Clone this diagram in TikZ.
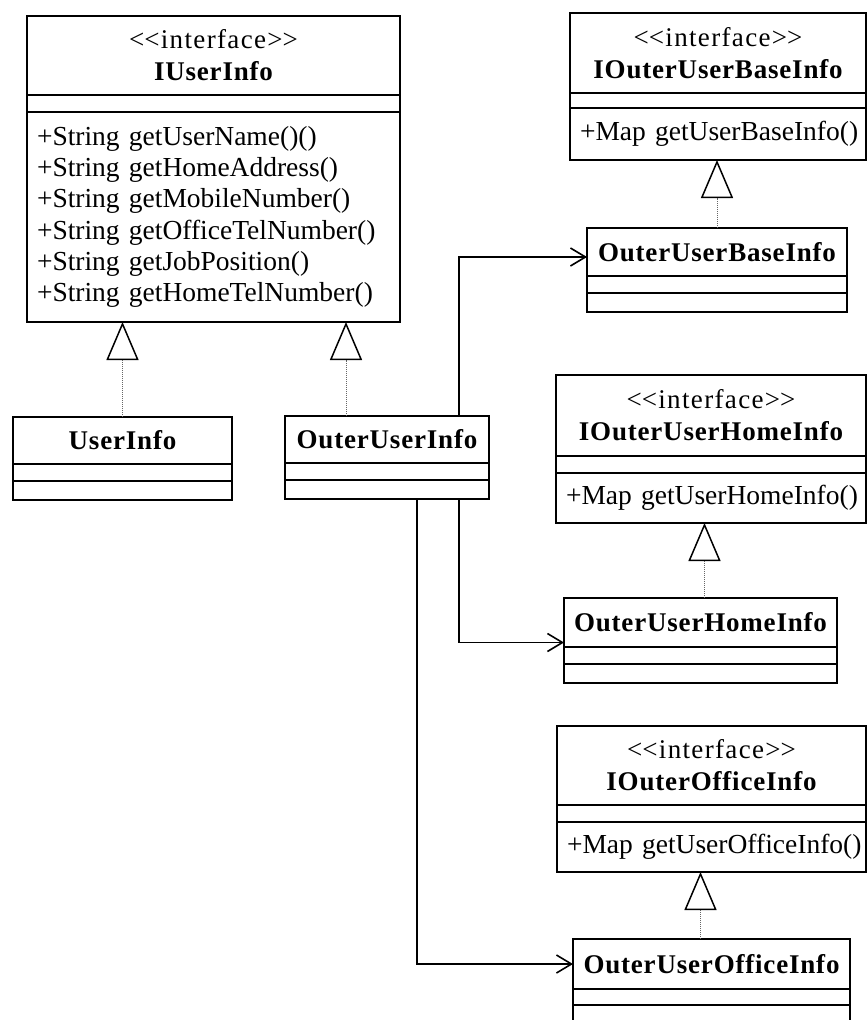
\documentclass[tikz,border=0pt]{standalone}
\usepackage{fontspec}
\setmainfont{Liberation Serif}
\newfontfamily\stereofont[LetterSpace=5]{Liberation Serif}
\newfontfamily\namefont[LetterSpace=3]{Liberation Serif}
\usetikzlibrary{arrows.meta,positioning}

\newcommand{\stereo}{{\stereofont <\kern0pt<interface>\kern0pt>}}

\tikzset{
  umlpart/.style={draw, line width=1.7pt, outer sep=0pt, inner sep=0pt},
  umltitle/.style={umlpart, align=center, font=\fontsize{27}{32}\selectfont},
  umlslot/.style={umlpart, minimum height=17},
  umlops/.style={umlpart, align=left, inner xsep=10pt, font=\fontsize{27.5}{31.2}\selectfont},
  umlreal/.style={densely dotted, line width=1pt, black!60,
    -{Triangle[open, fill=white, color=black, length=38pt, width=32pt, line width=1.5pt]}},
  umlassoc/.style={line width=1.6pt, -{Straight Barb[length=15pt, width=18pt, line width=1.6pt]}},
}

\begin{document}
\begin{tikzpicture}[x=1pt, y=-1pt]
  \useasboundingbox (0,0) rectangle (867,1020);

  % interface IUserInfo
  \node[umltitle, minimum width=373, minimum height=79, anchor=north west] (iuser) at (27,16)
    {\stereo\\ {\namefont\bfseries IUserInfo}};
  \node[umlslot, minimum width=373, below=0pt of iuser] (iuser-a) {};
  \node[umlops, text width=353, minimum width=373, minimum height=210, below=0pt of iuser-a] (iuser-o)
    {+String getUserName()()\\ +String getHomeAddress()\\ +String getMobileNumber()\\
     +String getOfficeTelNumber()\\ +String getJobPosition()\\ +String getHomeTelNumber()};

  % UserInfo
  \node[umltitle, minimum width=219, minimum height=47, anchor=north west] (uinfo) at (13,417)
    {\namefont\bfseries UserInfo};
  \node[umlslot, minimum width=219, below=0pt of uinfo] (uinfo-a) {};
  \node[umlpart, minimum width=219, minimum height=19, below=0pt of uinfo-a] (uinfo-o) {};

  % OuterUserInfo
  \node[umltitle, minimum width=204, minimum height=47, anchor=north west] (ouser) at (285,416)
    {\namefont\bfseries OuterUserInfo};
  \node[umlslot, minimum width=204, below=0pt of ouser] (ouser-a) {};
  \node[umlpart, minimum width=204, minimum height=19, below=0pt of ouser-a] (ouser-o) {};

  % interface IOuterUserBaseInfo
  \node[umltitle, minimum width=296, minimum height=80, anchor=north west] (ibase) at (570,13)
    {\stereo\\ {\namefont\bfseries IOuterUserBaseInfo}};
  \node[umlslot, minimum width=296, minimum height=15, below=0pt of ibase] (ibase-a) {};
  \node[umlops, text width=276, minimum width=296, minimum height=52, below=0pt of ibase-a] (ibase-o)
    {\mbox{+Map getUserBaseInfo()}};

  % OuterUserBaseInfo
  \node[umltitle, minimum width=260, minimum height=48, anchor=north west] (obase) at (587,228)
    {\namefont\bfseries OuterUserBaseInfo};
  \node[umlslot, minimum width=260, below=0pt of obase] (obase-a) {};
  \node[umlpart, minimum width=260, minimum height=19, below=0pt of obase-a] (obase-o) {};

  % interface IOuterUserHomeInfo
  \node[umltitle, minimum width=310, minimum height=81, anchor=north west] (ihome) at (556,375)
    {\stereo\\ {\namefont\bfseries IOuterUserHomeInfo}};
  \node[umlslot, minimum width=310, below=0pt of ihome] (ihome-a) {};
  \node[umlops, text width=290, minimum width=310, minimum height=50, below=0pt of ihome-a] (ihome-o)
    {\mbox{+Map getUserHomeInfo()}};

  % OuterUserHomeInfo
  \node[umltitle, minimum width=273, minimum height=49, anchor=north west] (ohome) at (564,598)
    {\namefont\bfseries OuterUserHomeInfo};
  \node[umlslot, minimum width=273, below=0pt of ohome] (ohome-a) {};
  \node[umlpart, minimum width=273, minimum height=19, below=0pt of ohome-a] (ohome-o) {};

  % interface IOuterOfficeInfo
  \node[umltitle, minimum width=309, minimum height=79, anchor=north west] (ioffice) at (557,726)
    {\stereo\\ {\namefont\bfseries IOuterOfficeInfo}};
  \node[umlslot, minimum width=309, below=0pt of ioffice] (ioffice-a) {};
  \node[umlops, text width=289, minimum width=309, minimum height=50, below=0pt of ioffice-a] (ioffice-o)
    {\mbox{+Map getUserOfficeInfo()}};

  % OuterUserOfficeInfo
  \node[umltitle, minimum width=277, minimum height=50, anchor=north west] (ooffice) at (573,939)
    {\namefont\bfseries OuterUserOfficeInfo};
  \node[umlslot, minimum width=277, minimum height=16, below=0pt of ooffice] (ooffice-a) {};
  \node[umlpart, minimum width=277, minimum height=19, below=0pt of ooffice-a] (ooffice-o) {};

  % realizations
  \draw[umlreal] (uinfo.north) -- (uinfo.north |- iuser-o.south);
  \draw[umlreal] ([xshift=-41pt]ouser.north) -- ([xshift=-41pt]ouser.north |- iuser-o.south);
  \draw[umlreal] (obase.north) -- (obase.north |- ibase-o.south);
  \draw[umlreal] ([xshift=4pt]ohome.north) -- ([xshift=4pt]ohome.north |- ihome-o.south);
  \draw[umlreal] ([xshift=-11pt]ooffice.north) -- ([xshift=-11pt]ooffice.north |- ioffice-o.south);

  % associations
  \draw[umlassoc] ([xshift=72pt]ouser.north) |- ([yshift=-5pt]obase.west);
  \draw[umlassoc] ([xshift=72pt]ouser-o.south) |- ([yshift=-20pt]ohome.west);
  \draw[umlassoc] ([xshift=30pt]ouser-o.south) |- (ooffice.west);
\end{tikzpicture}
\end{document}
